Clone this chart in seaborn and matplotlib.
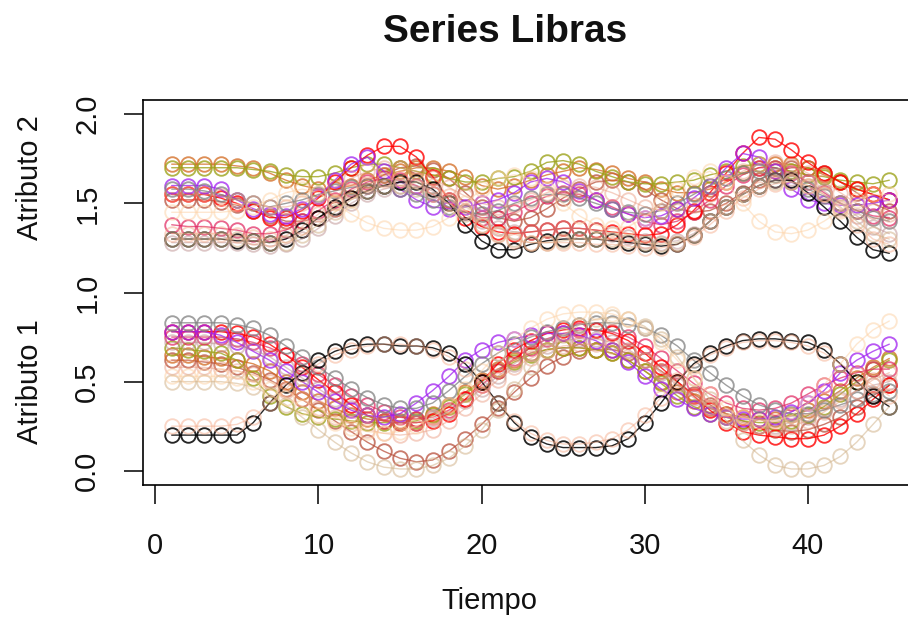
import matplotlib
matplotlib.use("Agg")
import matplotlib.pyplot as plt
import seaborn as sns

sns.set_style("white")
plt.rcParams["font.family"] = ["Liberation Sans", "DejaVu Sans"]

tiempo = list(range(1, 46))

# Class-mean trajectories: attribute 1 (x coordinate) and attribute 2 (y coordinate, shifted by +1)
negro_a1 = [.20, .20, .20, .20, .20, .27, .38, .48, .55, .62, .67, .70, .71, .71, .70,
            .70, .69, .66, .60, .50, .38, .27, .19, .15, .13, .13, .13, .14, .18, .27,
            .38, .50, .60, .66, .70, .73, .74, .74, .73, .72, .68, .60, .50, .42, .36]
negro_a2 = [1.30, 1.30, 1.30, 1.30, 1.29, 1.29, 1.28, 1.30, 1.35, 1.42, 1.48, 1.53, 1.57, 1.60, 1.62,
            1.62, 1.58, 1.50, 1.38, 1.29, 1.24, 1.24, 1.27, 1.29, 1.30, 1.30, 1.30, 1.29, 1.28, 1.27,
            1.26, 1.27, 1.32, 1.40, 1.48, 1.55, 1.60, 1.63, 1.63, 1.56, 1.48, 1.40, 1.31, 1.24, 1.22]

gris_a1 = [.83, .83, .83, .83, .82, .80, .76, .70, .64, .58, .52, .46, .41, .37, .35,
           .35, .38, .45, .53, .60, .66, .71, .75, .78, .80, .82, .83, .83, .82, .80,
           .76, .70, .62, .55, .48, .42, .37, .34, .32, .32, .34, .37, .40, .43, .45]
gris_a2 = [1.58, 1.58, 1.57, 1.55, 1.52, 1.50, 1.48, 1.50, 1.52, 1.55, 1.57, 1.59, 1.60, 1.60, 1.58,
           1.55, 1.52, 1.48, 1.45, 1.44, 1.46, 1.50, 1.53, 1.55, 1.55, 1.53, 1.50, 1.47, 1.45, 1.44,
           1.46, 1.50, 1.55, 1.60, 1.64, 1.67, 1.68, 1.66, 1.62, 1.58, 1.54, 1.50, 1.46, 1.42, 1.40]

morado_a1 = [.78, .78, .78, .76, .72, .67, .62, .56, .50, .44, .39, .34, .31, .30, .32,
             .38, .45, .53, .62, .68, .72, .74, .76, .77, .77, .76, .73, .68, .61, .53,
             .46, .40, .35, .32, .30, .29, .29, .30, .33, .38, .45, .55, .62, .67, .71]
morado_a2 = [1.60, 1.60, 1.60, 1.58, 1.52, 1.47, 1.44, 1.43, 1.47, 1.54, 1.63, 1.72, 1.76, 1.68, 1.58,
             1.52, 1.48, 1.47, 1.48, 1.50, 1.52, 1.56, 1.62, 1.64, 1.62, 1.57, 1.52, 1.47, 1.44, 1.42,
             1.43, 1.47, 1.53, 1.60, 1.70, 1.78, 1.76, 1.68, 1.58, 1.52, 1.50, 1.49, 1.49, 1.50, 1.52]

rojo_a1 = [.78, .78, .78, .78, .77, .75, .71, .65, .58, .51, .44, .37, .31, .28, .27,
           .27, .28, .32, .40, .50, .60, .68, .73, .77, .79, .80, .79, .77, .73, .66,
           .58, .50, .42, .34, .27, .22, .20, .19, .18, .18, .20, .25, .32, .40, .48]
rojo_a2 = [1.55, 1.55, 1.55, 1.53, 1.50, 1.46, 1.42, 1.42, 1.46, 1.53, 1.62, 1.70, 1.77, 1.82, 1.82,
           1.76, 1.65, 1.52, 1.42, 1.37, 1.34, 1.33, 1.34, 1.35, 1.36, 1.36, 1.35, 1.34, 1.33, 1.32,
           1.33, 1.38, 1.46, 1.56, 1.67, 1.78, 1.87, 1.86, 1.80, 1.73, 1.67, 1.62, 1.58, 1.55, 1.52]

carmesi_a1 = [.75, .75, .75, .75, .74, .72, .69, .65, .60, .54, .48, .42, .37, .33, .30,
              .29, .30, .34, .40, .48, .56, .63, .69, .74, .77, .79, .79, .78, .75, .70,
              .63, .56, .49, .43, .38, .35, .34, .35, .38, .43, .48, .52, .55, .57, .57]
carmesi_a2 = [1.38, 1.37, 1.37, 1.36, 1.35, 1.33, 1.33, 1.35, 1.40, 1.46, 1.52, 1.58, 1.62, 1.64, 1.63,
              1.60, 1.55, 1.50, 1.45, 1.42, 1.42, 1.45, 1.50, 1.54, 1.56, 1.55, 1.52, 1.48, 1.44, 1.40,
              1.38, 1.40, 1.45, 1.52, 1.60, 1.66, 1.70, 1.70, 1.67, 1.62, 1.56, 1.50, 1.46, 1.43, 1.42]

oliva_a1 = [.69, .68, .67, .66, .62, .52, .42, .36, .32, .30, .29, .28, .27, .27, .27,
            .28, .31, .36, .43, .50, .56, .61, .65, .68, .69, .69, .68, .66, .62, .56,
            .49, .42, .36, .32, .30, .28, .27, .27, .28, .31, .36, .43, .50, .57, .62]
oliva_a2 = [1.70, 1.70, 1.70, 1.70, 1.70, 1.69, 1.68, 1.66, 1.65, 1.65, 1.67, 1.70, 1.72, 1.72, 1.70,
            1.68, 1.66, 1.64, 1.62, 1.62, 1.64, 1.65, 1.68, 1.73, 1.74, 1.72, 1.68, 1.65, 1.62, 1.61,
            1.61, 1.62, 1.63, 1.66, 1.68, 1.71, 1.72, 1.70, 1.68, 1.66, 1.65, 1.63, 1.62, 1.61, 1.63]

chocolate_a1 = [.65, .65, .64, .63, .62, .60, .56, .50, .44, .39, .35, .31, .29, .28, .28,
                .29, .32, .37, .44, .51, .57, .62, .66, .68, .69, .69, .68, .66, .62, .56,
                .50, .44, .39, .35, .32, .30, .29, .29, .31, .34, .39, .45, .52, .58, .63]
chocolate_a2 = [1.72, 1.72, 1.72, 1.72, 1.71, 1.70, 1.67, 1.63, 1.60, 1.58, 1.58, 1.60, 1.63, 1.66, 1.68,
                1.70, 1.70, 1.68, 1.65, 1.60, 1.58, 1.60, 1.63, 1.66, 1.68, 1.70, 1.69, 1.67, 1.64, 1.62,
                1.58, 1.56, 1.56, 1.58, 1.62, 1.67, 1.70, 1.72, 1.72, 1.70, 1.66, 1.62, 1.58, 1.55, 1.52]

siena_a1 = [.62, .62, .61, .60, .58, .55, .51, .46, .40, .34, .28, .22, .16, .11, .07,
            .05, .06, .11, .18, .26, .35, .44, .52, .59, .64, .67, .68, .68, .66, .62,
            .56, .50, .43, .37, .32, .28, .25, .23, .22, .23, .26, .30, .36, .42, .48]
siena_a2 = [1.52, 1.52, 1.52, 1.51, 1.49, 1.46, 1.43, 1.40, 1.40, 1.42, 1.47, 1.53, 1.60, 1.66, 1.70,
            1.71, 1.69, 1.64, 1.56, 1.48, 1.42, 1.40, 1.42, 1.47, 1.53, 1.58, 1.62, 1.63, 1.62, 1.58,
            1.52, 1.47, 1.45, 1.46, 1.50, 1.56, 1.63, 1.68, 1.70, 1.70, 1.67, 1.62, 1.56, 1.50, 1.46]

tostado_a1 = [.50, .50, .50, .50, .49, .47, .43, .37, .30, .23, .16, .10, .05, .02, .01,
              .01, .03, .07, .14, .23, .34, .46, .58, .68, .76, .82, .85, .86, .85, .81,
              .74, .64, .52, .40, .28, .17, .09, .03, .01, .01, .03, .08, .16, .26, .36]
tostado_a2 = [1.30, 1.30, 1.30, 1.30, 1.30, 1.29, 1.28, 1.28, 1.32, 1.38, 1.45, 1.52, 1.57, 1.60, 1.60,
              1.58, 1.55, 1.50, 1.44, 1.38, 1.33, 1.30, 1.28, 1.28, 1.29, 1.30, 1.30, 1.30, 1.29, 1.28,
              1.27, 1.28, 1.32, 1.40, 1.48, 1.55, 1.60, 1.62, 1.62, 1.60, 1.55, 1.48, 1.40, 1.33, 1.30]

durazno_a1 = [.25, .25, .25, .25, .26, .30, .38, .46, .54, .60, .65, .68, .70, .71, .71,
              .70, .68, .64, .57, .48, .38, .28, .21, .17, .15, .15, .16, .18, .23, .31,
              .41, .51, .59, .65, .69, .72, .73, .73, .72, .70, .66, .60, .54, .48, .42]
durazno_a2 = [1.33, 1.33, 1.33, 1.33, 1.32, 1.31, 1.30, 1.32, 1.37, 1.44, 1.51, 1.57, 1.61, 1.63, 1.64,
              1.63, 1.60, 1.54, 1.46, 1.38, 1.32, 1.29, 1.28, 1.28, 1.28, 1.28, 1.27, 1.27, 1.26, 1.25,
              1.25, 1.27, 1.31, 1.38, 1.46, 1.53, 1.58, 1.61, 1.62, 1.60, 1.55, 1.47, 1.38, 1.30, 1.27]

melocoton_a1 = [.53, .53, .53, .53, .52, .50, .46, .41, .36, .31, .27, .24, .22, .21, .22,
                .25, .30, .37, .46, .56, .66, .74, .80, .85, .88, .89, .89, .88, .85, .80,
                .72, .62, .52, .43, .35, .30, .28, .28, .31, .38, .48, .60, .71, .79, .84]
melocoton_a2 = [1.45, 1.45, 1.45, 1.45, 1.46, 1.48, 1.52, 1.56, 1.58, 1.56, 1.50, 1.44, 1.39, 1.36, 1.35,
                1.35, 1.37, 1.42, 1.50, 1.58, 1.64, 1.66, 1.64, 1.58, 1.50, 1.43, 1.38, 1.36, 1.37, 1.42,
                1.50, 1.58, 1.65, 1.68, 1.62, 1.50, 1.40, 1.34, 1.33, 1.35, 1.40, 1.46, 1.52, 1.55, 1.55]

salmon_a1 = [.58, .58, .58, .57, .56, .54, .50, .45, .40, .35, .30, .26, .23, .21, .20,
             .21, .23, .28, .35, .43, .51, .58, .63, .67, .70, .71, .71, .70, .67, .62,
             .56, .49, .42, .36, .31, .27, .25, .24, .25, .28, .33, .39, .45, .51, .55]
salmon_a2 = [1.55, 1.55, 1.55, 1.54, 1.52, 1.50, 1.48, 1.48, 1.50, 1.54, 1.59, 1.64, 1.68, 1.70, 1.70,
             1.68, 1.64, 1.59, 1.54, 1.50, 1.48, 1.49, 1.52, 1.56, 1.59, 1.60, 1.59, 1.56, 1.52, 1.48,
             1.46, 1.46, 1.49, 1.55, 1.62, 1.68, 1.72, 1.73, 1.71, 1.67, 1.62, 1.56, 1.50, 1.46, 1.44]

rosado_a1 = [.72, .72, .72, .71, .70, .68, .64, .58, .52, .46, .40, .35, .31, .28, .27,
             .27, .29, .33, .39, .46, .53, .60, .66, .70, .73, .74, .74, .72, .68, .62,
             .55, .48, .41, .35, .30, .27, .25, .25, .27, .30, .35, .40, .45, .48, .50]
rosado_a2 = [1.28, 1.28, 1.28, 1.28, 1.28, 1.27, 1.26, 1.27, 1.30, 1.36, 1.43, 1.50, 1.55, 1.58, 1.60,
             1.60, 1.57, 1.52, 1.46, 1.40, 1.36, 1.34, 1.34, 1.35, 1.36, 1.36, 1.35, 1.33, 1.31, 1.29,
             1.28, 1.29, 1.33, 1.40, 1.48, 1.55, 1.60, 1.63, 1.64, 1.62, 1.57, 1.50, 1.43, 1.37, 1.33]

# (colour, opacity, attribute 1, attribute 2) in drawing order
series = [
    ("#b8503c", 0.75, siena_a1, siena_a2),
    ("#d2691e", 0.75, chocolate_a1, chocolate_a2),
    ("#9da31c", 0.80, oliva_a1, oliva_a2),
    ("#e0245e", 0.70, carmesi_a1, carmesi_a2),
    ("#ff0000", 0.80, rojo_a1, rojo_a2),
    ("#a020f0", 0.75, morado_a1, morado_a2),
    ("#808080", 0.75, gris_a1, gris_a2),
    ("#000000", 0.85, negro_a1, negro_a2),
    ("#bc8f8f", 0.50, rosado_a1, rosado_a2),
    ("#e9967a", 0.45, salmon_a1, salmon_a2),
    ("#d2b48c", 0.55, tostado_a1, tostado_a2),
    ("#f4a582", 0.45, durazno_a1, durazno_a2),
    ("#fdd0a2", 0.50, melocoton_a1, melocoton_a2),
]

fig = plt.figure(figsize=(9.08, 6.19), dpi=100)
ax = fig.add_axes([143 / 908, 134 / 619, 775 / 908, 385 / 619])

for color, alpha, a1, a2 in series:
    for vals in (a1, a2):
        sns.lineplot(x=tiempo, y=vals, ax=ax, color=color, alpha=alpha,
                     linewidth=1.0, marker="o", markersize=10.5,
                     markerfacecolor="none", markeredgecolor=color,
                     markeredgewidth=1.35, estimator=None, sort=False,
                     legend=False)

ax.set_xlim(-0.76, 46.76)
ax.set_ylim(-0.08, 2.08)
ax.set_xticks([0, 10, 20, 30, 40])
ax.set_yticks([0.0, 0.5, 1.0, 1.5, 2.0])
ax.set_yticklabels(["0.0", "0.5", "1.0", "1.5", "2.0"], rotation=90, va="center")
ax.set_xlabel("")
ax.set_ylabel("")
ax.tick_params(axis="both", direction="out", length=14, width=1.1, color="black",
               labelsize=21, labelcolor="#111111", bottom=True, left=True)
ax.tick_params(axis="x", pad=20)
ax.tick_params(axis="y", pad=16)
for s in ax.spines.values():
    s.set_color("black")
    s.set_linewidth(1.2)

fig.text(505 / 908, 1 - 42 / 619, "Series Libras", ha="center", va="baseline",
         fontsize=28, fontweight="bold", color="#111111")
fig.text(489 / 908, 1 - 609 / 619, "Tiempo", ha="center", va="baseline",
         fontsize=21, color="#111111")
fig.text(30 / 908, 1 - 178 / 619, "Atributo 2", rotation=90, ha="center",
         va="center", fontsize=21, color="#111111")
fig.text(30 / 908, 1 - 382 / 619, "Atributo 1", rotation=90, ha="center",
         va="center", fontsize=21, color="#111111")

fig.savefig("out.png", dpi=100)
